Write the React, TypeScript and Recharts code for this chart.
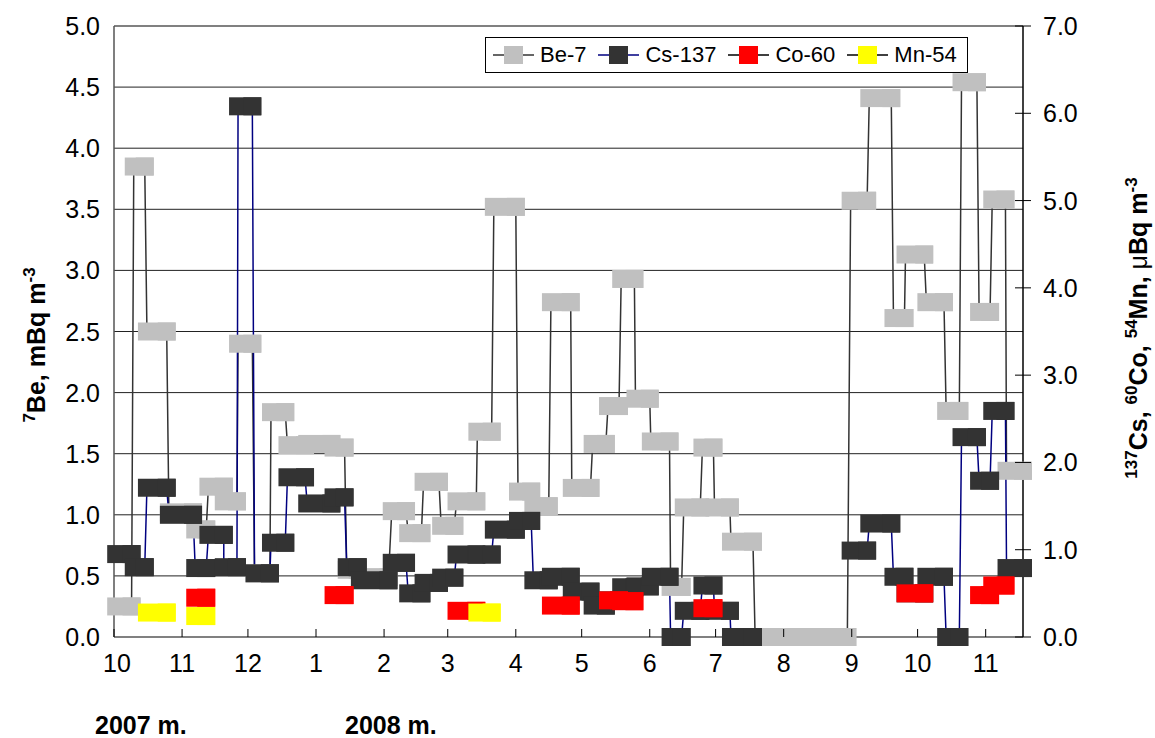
import React from "react";
import { LineChart, Line, XAxis, YAxis, CartesianGrid, ReferenceLine } from "recharts";

// filter sampling periods, days counted from 1 Oct 2007 (first / last day)
const periodStart = [
  1, 9, 15, 25, 37, 43, 50, 56.5, 64, 71.5,
  79, 88, 100, 106, 112, 126.5, 134, 141, 149, 156,
  165.5, 173, 184, 191, 199, 208.5, 218, 225, 231, 237.5,
  244.5, 253.5, 259.5, 268, 273.5, 281, 292, 300, 307, 315,
  322, 329, 335.5, 344, 355, 360.5, 370, 379, 386, 394,
  400, 406.5,
];
const periodEnd = [
  8, 14, 24, 36, 42, 50, 56, 63, 71, 78,
  87, 99, 105, 111, 125, 133, 140, 148, 155, 165,
  172, 183, 190, 198, 208, 217, 224, 230, 237, 244,
  253, 258.5, 267, 273, 280.5, 291, 299, 306, 314, 321,
  328, 334, 343, 354, 360, 369, 378, 385, 393, 399,
  406, 414,
];

// 7Be, mBq/m3 (left axis)
const be7 = [
  0.25, 3.85, 2.5, 1.02, 0.88, 1.23, 1.11, 2.4, 0.52, 1.84,
  1.57, 1.58, 1.55, 0.55, 0.49, 1.03, 0.85, 1.27, 0.91, 1.11,
  1.68, 3.52, 1.19, 1.07, 2.74, 1.22, 1.58, 1.89, 2.93, 1.95,
  1.6, 0.41, 1.06, 1.55, 1.06, 0.78, 0, 0, 0, 0,
  0, 0, 3.57, 4.41, 2.61, 3.13, 2.74, 1.85, 4.54, 2.66,
  3.58, 1.36,
];
// 137Cs, uBq/m3 (right axis)
const cs137 = [
  0.95, 0.8, 1.71, 1.4, 0.79, 1.17, 0.8, 6.08, 0.73, 1.08,
  1.83, 1.53, 1.6, 0.8, 0.65, 0.85, 0.5, 0.62, 0.68, 0.945,
  0.945, 1.23, 1.33, 0.65, 0.69, 0.52, 0.36, 0.42, 0.57, 0.58,
  0.69, 0, 0.3, 0.59, 0.3, 0, null, null, null, null,
  null, null, 0.99, 1.3, 0.69, 0.5, 0.69, 0, 2.29, 1.79,
  2.59, 0.79,
];
// 60Co, uBq/m3
const co60 = [
  null, null, null, null, 0.45, null, null, null, null, null,
  null, null, 0.48, null, null, null, null, null, null, 0.3,
  null, null, null, null, 0.36, null, null, 0.42, 0.41, null,
  null, null, null, 0.33, null, null, null, null, null, null,
  null, null, null, null, null, 0.5, null, null, null, 0.48,
  0.59, null,
];
// 54Mn, uBq/m3
const mn54 = [
  null, null, 0.28, null, 0.24, null, null, null, null, null,
  null, null, null, null, null, null, null, null, null, null,
  0.28, null, null, null, null, null, null, null, null, null,
  null, null, null, null, null, null, null, null, null, null,
  null, null, null, null, null, null, null, null, null, null,
  null, null,
];

const monthTicks = [0, 31, 61, 92, 123, 152, 183, 213, 244, 274, 305, 336, 366, 397];
const monthLabels = ["10", "11", "12", "1", "2", "3", "4", "5", "6", "7", "8", "9", "10", "11"];
const leftTicks = [0, 0.5, 1, 1.5, 2, 2.5, 3, 3.5, 4, 4.5, 5];
const rightTicks = [0, 1, 2, 3, 4, 5, 6, 7];

const FONT = "'Liberation Sans', Arial, sans-serif";
const X_MAX = 414;
const PLOT_LEFT = 114;
const PLOT_RIGHT = 1023;
const PLOT_BOTTOM = 637;
const PX_PER_DAY = (PLOT_RIGHT - PLOT_LEFT) / X_MAX;
const TICK_FS = 25;

// every sample is drawn as two points (start, end) with the same value
function toPoints(values: (number | null)[]) {
  const pts: { x: number; y: number | null; x2?: number; start?: boolean }[] = [];
  values.forEach((v, i) => {
    if (v === null) {
      pts.push({ x: periodStart[i], y: null });
    } else {
      pts.push({ x: periodStart[i], y: v, x2: periodEnd[i], start: true }, { x: periodEnd[i], y: v });
    }
  });
  return pts;
}

const bePts = toPoints(be7);
const csPts = toPoints(cs137);
const coPts = toPoints(co60);
const mnPts = toPoints(mn54);

// marker: a square at each end of the sampling period, joined into one block
const periodMarker = (fill: string, name: string) => (props: any) => {
  const { cx, cy, index, value, payload } = props;
  if (cx == null || cy == null || value == null || isNaN(cy)) return <g key={`${name}-${index}`} />;
  const span = payload && payload.start ? (payload.x2 - payload.x) * PX_PER_DAY : 0;
  return <rect key={`${name}-${index}`} x={cx - 9} y={cy - 9} width={18 + span} height={18} fill={fill} />;
};

const LeftTick = ({ y, payload }: any) => (
  <text x={100} y={y} textAnchor="end" dominantBaseline="central" fontSize={TICK_FS} fontFamily={FONT} fill="#000">
    {Number(payload.value).toFixed(1)}
  </text>
);

const RightTick = ({ y, payload }: any) => (
  <g>
    <line x1={PLOT_RIGHT - 8} x2={PLOT_RIGHT + 8} y1={y} y2={y} stroke="#000" strokeWidth={1} />
    <text x={1043} y={y} textAnchor="start" dominantBaseline="central" fontSize={TICK_FS} fontFamily={FONT} fill="#000">
      {Number(payload.value).toFixed(1)}
    </text>
  </g>
);

const MonthTick = ({ x, index }: any) => (
  <g>
    <line x1={x} x2={x} y1={PLOT_BOTTOM - 8} y2={PLOT_BOTTOM} stroke="#000" strokeWidth={1} />
    <text x={index === 0 ? x + 3 : x} y={663} textAnchor="middle" dominantBaseline="central" fontSize={TICK_FS} fontFamily={FONT} fill="#000">
      {monthLabels[index]}
    </text>
  </g>
);

const legendItems = [
  { name: "Be-7", fill: "#C0C0C0", line: "#333333" },
  { name: "Cs-137", fill: "#333333", line: "#000080" },
  { name: "Co-60", fill: "#FF0000", line: "#000000" },
  { name: "Mn-54", fill: "#FFFF00", line: "#000000" },
];

export default function App() {
  return (
    <div style={{ position: "absolute", left: 0, top: 0, width: 1155, height: 738, background: "#fff", fontFamily: FONT }}>
      <LineChart width={1155} height={738} margin={{ top: 26, right: 0, bottom: 0, left: 0 }}>
        <CartesianGrid yAxisId="left" vertical={false} stroke="#222" strokeWidth={1} />
        <XAxis
          type="number"
          dataKey="x"
          domain={[0, X_MAX]}
          ticks={monthTicks}
          interval={0}
          height={101}
          axisLine={{ stroke: "#808080", strokeWidth: 2 }}
          tickLine={false}
          tick={<MonthTick />}
        />
        <YAxis
          yAxisId="left"
          domain={[0, 5]}
          ticks={leftTicks}
          interval={0}
          width={114}
          axisLine={{ stroke: "#555", strokeWidth: 1.5 }}
          tickLine={false}
          tick={<LeftTick />}
        />
        <YAxis
          yAxisId="right"
          orientation="right"
          domain={[0, 7]}
          ticks={rightTicks}
          interval={0}
          width={132}
          axisLine={{ stroke: "#000", strokeWidth: 1.5 }}
          tickLine={false}
          tick={<RightTick />}
        />
        <ReferenceLine yAxisId="left" y={5} stroke="#808080" strokeWidth={2} />

        {/* connecting lines first, markers afterwards (markers sit over all lines) */}
        <Line yAxisId="left" data={bePts} dataKey="y" type="linear" stroke="#333333" strokeWidth={1.5} dot={false} activeDot={false} isAnimationActive={false} />
        <Line yAxisId="right" data={csPts} dataKey="y" type="linear" stroke="#000080" strokeWidth={1.5} dot={false} activeDot={false} isAnimationActive={false} />
        <Line yAxisId="right" data={coPts} dataKey="y" type="linear" stroke="#000" strokeWidth={1} dot={false} activeDot={false} isAnimationActive={false} />
        <Line yAxisId="right" data={mnPts} dataKey="y" type="linear" stroke="#000" strokeWidth={1} dot={false} activeDot={false} isAnimationActive={false} />

        <Line yAxisId="left" data={bePts} dataKey="y" stroke="none" dot={periodMarker("#C0C0C0", "be")} activeDot={false} isAnimationActive={false} />
        <Line yAxisId="right" data={csPts} dataKey="y" stroke="none" dot={periodMarker("#333333", "cs")} activeDot={false} isAnimationActive={false} />
        <Line yAxisId="right" data={coPts} dataKey="y" stroke="none" dot={periodMarker("#FF0000", "co")} activeDot={false} isAnimationActive={false} />
        <Line yAxisId="right" data={mnPts} dataKey="y" stroke="none" dot={periodMarker("#FFFF00", "mn")} activeDot={false} isAnimationActive={false} />
      </LineChart>

      {/* legend */}
      <div
        style={{
          position: "absolute",
          left: 485,
          top: 37,
          width: 474,
          height: 34,
          border: "1px solid #000",
          background: "#fff",
          display: "flex",
          alignItems: "center",
          paddingLeft: 7,
          boxSizing: "content-box",
          gap: 12,
          fontSize: 22,
        }}
      >
        {legendItems.map((it) => (
          <div key={it.name} style={{ display: "flex", alignItems: "center" }}>
            <svg width={41} height={20}>
              <line x1={0} x2={41} y1={10} y2={10} stroke={it.line} strokeWidth={1.5} />
              <rect x={11} y={1} width={19} height={18} fill={it.fill} />
            </svg>
            <span style={{ marginLeft: 6, lineHeight: "22px" }}>{it.name}</span>
          </div>
        ))}
      </div>

      {/* axis titles and year captions */}
      <svg width={1155} height={738} style={{ position: "absolute", left: 0, top: 0, pointerEvents: "none" }}>
        <text transform="translate(45, 345) rotate(-90)" textAnchor="middle" fontFamily={FONT} fontWeight="bold" fontSize={25} fill="#000">
          <tspan fontSize={17} dy={-10}>7</tspan>
          <tspan dy={10}>Be, mBq m</tspan>
          <tspan fontSize={17} dy={-10}>-3</tspan>
        </text>
        <text transform="translate(1147, 328) rotate(-90)" textAnchor="middle" fontFamily={FONT} fontWeight="bold" fontSize={25} fill="#000">
          <tspan fontSize={17} dy={-10}>137</tspan>
          <tspan dy={10}>Cs, </tspan>
          <tspan fontSize={17} dy={-10}>60</tspan>
          <tspan dy={10}>Co, </tspan>
          <tspan fontSize={17} dy={-10}>54</tspan>
          <tspan dy={10}>Mn, </tspan>
          <tspan fontWeight="normal">μ</tspan>
          <tspan>Bq m</tspan>
          <tspan fontSize={17} dy={-10}>-3</tspan>
        </text>
        <text x={95} y={725} dominantBaseline="central" fontFamily={FONT} fontWeight="bold" fontSize={25} fill="#000">
          2007 m.
        </text>
        <text x={345} y={725} dominantBaseline="central" fontFamily={FONT} fontWeight="bold" fontSize={25} fill="#000">
          2008 m.
        </text>
      </svg>
    </div>
  );
}
